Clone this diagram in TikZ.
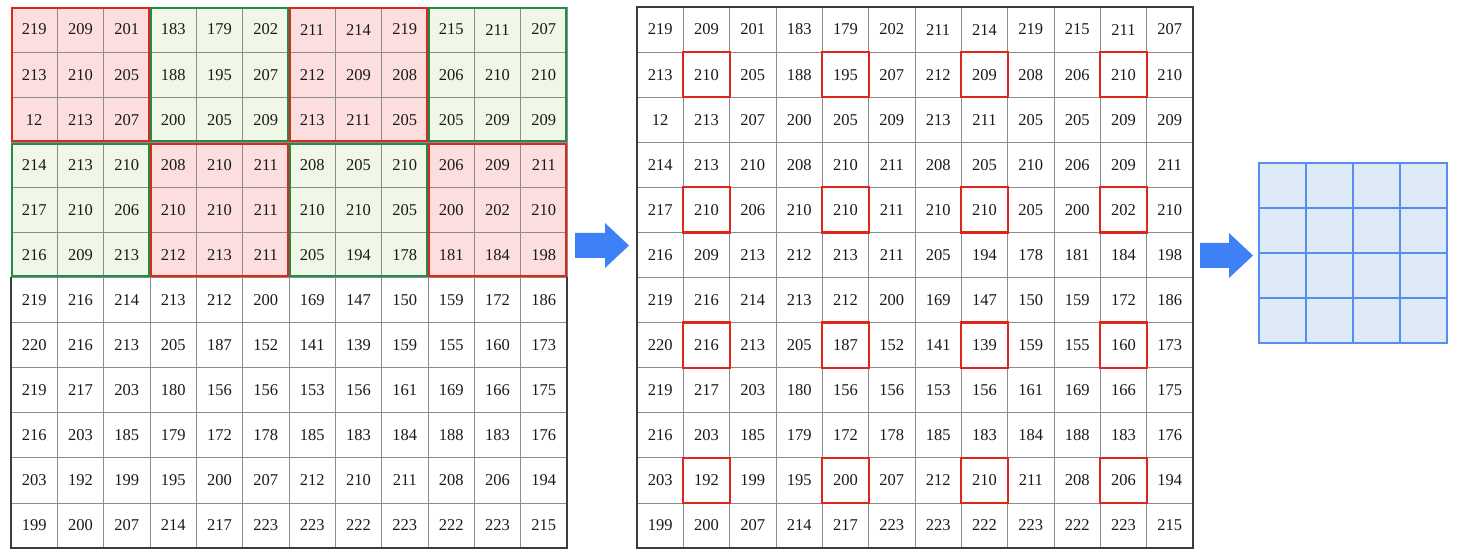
\documentclass[tikz,border=0pt]{standalone}
\usepackage{fontspec}
\setmainfont{Liberation Serif}

\definecolor{poolred}{RGB}{220,40,26}
\definecolor{poolgreen}{RGB}{30,140,74}
\definecolor{fillred}{RGB}{253,222,222}
\definecolor{fillgreen}{RGB}{240,247,231}
\definecolor{gridgray}{RGB}{140,140,140}
\definecolor{framegray}{RGB}{60,60,60}
\definecolor{arrowblue}{RGB}{62,128,245}
\definecolor{outblue}{RGB}{86,142,236}
\definecolor{outfill}{RGB}{222,233,248}

\tikzset{
  cell/.style={rectangle, draw=gridgray, line width=0.8pt, minimum width=46.33pt, minimum height=45.08pt, inner sep=0pt, outer sep=0pt, text=black!90, font=\fontsize{16.5}{18}\selectfont},
  outcell/.style={rectangle, draw=outblue, fill=outfill, line width=1.4pt, minimum width=47pt, minimum height=45pt, inner sep=0pt, outer sep=0pt},
  frame/.style={draw=framegray, line width=1.5pt},
  pickbox/.style={draw=poolred, line width=2.2pt}
}

\begin{document}
\begin{tikzpicture}[x=1pt,y=1pt,yscale=-1]
\useasboundingbox (0,0) rectangle (1457,556);

%Shape: pooling windows, fill
\foreach \bc/\br/\kind in {0/0/red,1/0/green,2/0/red,3/0/green,0/1/green,1/1/red,2/1/green,3/1/red}
  \fill[fill\kind] (11+\bc*139,7+\br*135.25) rectangle ++(139,135.25);

%Text Nodes: input map (left) and its copy (middle)
\foreach \row [count=\r] in {
  {219,209,201,183,179,202,211,214,219,215,211,207},
  {213,210,205,188,195,207,212,209,208,206,210,210},
  {12,213,207,200,205,209,213,211,205,205,209,209},
  {214,213,210,208,210,211,208,205,210,206,209,211},
  {217,210,206,210,210,211,210,210,205,200,202,210},
  {216,209,213,212,213,211,205,194,178,181,184,198},
  {219,216,214,213,212,200,169,147,150,159,172,186},
  {220,216,213,205,187,152,141,139,159,155,160,173},
  {219,217,203,180,156,156,153,156,161,169,166,175},
  {216,203,185,179,172,178,185,183,184,188,183,176},
  {203,192,199,195,200,207,212,210,211,208,206,194},
  {199,200,207,214,217,223,223,222,223,222,223,215}} {
  \foreach \v [count=\c] in \row {
    \node[cell] (l-\r-\c) at (11+\c*46.333-23.167,7+\r*45.083-22.542) {\v};
    \node[cell] (m-\r-\c) at (637+\c*46.333-23.167,7+\r*45.083-22.542) {\v};
  }
}

%Shape: pooling windows, border
\foreach \bc/\br/\kind in {0/0/red,1/0/green,2/0/red,3/0/green,0/1/green,1/1/red,2/1/green,3/1/red}
  \draw[draw=pool\kind, line width=2pt] (11+\bc*139+1.4,7+\br*135.25+1.4) rectangle ++(136.2,132.45);

%Shape: picked values
\foreach \r in {2,5,8,11}
  \foreach \c in {2,5,8,11}
    \draw[pickbox] (m-\r-\c.north west) rectangle (m-\r-\c.south east);

%Shape: frames
\draw[frame] (l-7-1.north west) -- (l-12-1.south west) -- (l-12-12.south east) -- (l-7-12.north east);
\draw[frame] (m-1-1.north west) rectangle (m-12-12.south east);

%Shape: output map
\foreach \r in {1,...,4}
  \foreach \c in {1,...,4}
    \node[outcell] (o-\r-\c) at (1259+\c*47-23.5,163+\r*45-22.5) {};

%Shape: arrows
\fill[arrowblue] (575,233) -- (605,233) -- (605,223) -- (629,245.5) -- (605,268) -- (605,258) -- (575,258) -- cycle;
\fill[arrowblue] (1200,243) -- (1229,243) -- (1229,233) -- (1253,255.5) -- (1229,278) -- (1229,268) -- (1200,268) -- cycle;

\end{tikzpicture}
\end{document}
